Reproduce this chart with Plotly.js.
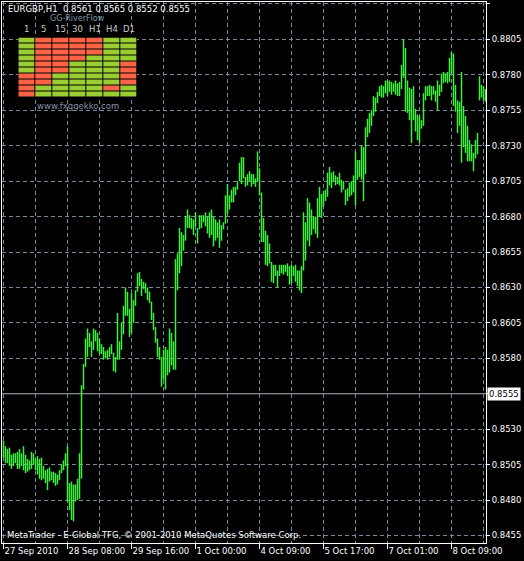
<!DOCTYPE html>
<html>
<head>
<meta charset="utf-8">
<script src="https://cdn.plot.ly/plotly-3.0.1.min.js"></script>
<style>html,body{margin:0;padding:0;background:#000;}#chart{width:524px;height:561px;}</style>
</head>
<body>
<div id="chart"></div>
<script>
// ---- data ----
const symbol = 'EURGBP';
const timeframe = 'H1';
const quote = [0.8561, 0.8565, 0.8552, 0.8555]; // open, high, low, close of the live bar

// hourly bar highs / lows (one per H1 bar, left to right)
const highs = [
  0.8522,0.8518,0.8516,0.8517,0.8512,0.8513,0.8513,0.8514,0.8516,0.8513,
  0.8518,0.8512,0.8509,0.8508,0.8514,0.8513,0.8509,0.8511,0.8509,0.8510,
  0.8504,0.8501,0.8502,0.8503,0.8500,0.8500,0.8499,0.8498,0.8501,0.8505,
  0.8508,0.8513,0.8518,0.8492,0.8493,0.8491,0.8491,0.8495,0.8513,0.8561,
  0.8576,0.8594,0.8601,0.8598,0.8592,0.8601,0.8600,0.8598,0.8594,0.8590,
  0.8588,0.8585,0.8586,0.8588,0.8590,0.8584,0.8581,0.8612,0.8592,0.8605,
  0.8617,0.8630,0.8627,0.8615,0.8626,0.8621,0.8628,0.8640,0.8641,0.8636,
  0.8634,0.8633,0.8630,0.8627,0.8620,0.8612,0.8602,0.8594,0.8588,0.8581,
  0.8586,0.8588,0.8586,0.8601,0.8598,0.8592,0.8650,0.8654,0.8672,0.8669,
  0.8667,0.8680,0.8685,0.8681,0.8679,0.8678,0.8683,0.8672,0.8681,0.8681,
  0.8681,0.8683,0.8680,0.8683,0.8685,0.8680,0.8678,0.8676,0.8678,0.8674,
  0.8676,0.8695,0.8703,0.8695,0.8699,0.8701,0.8701,0.8705,0.8718,0.8722,
  0.8722,0.8708,0.8710,0.8712,0.8710,0.8710,0.8707,0.8726,0.8714,0.8697,
  0.8679,0.8670,0.8667,0.8661,0.8648,0.8646,0.8646,0.8642,0.8646,0.8646,
  0.8646,0.8646,0.8647,0.8645,0.8646,0.8645,0.8646,0.8642,0.8642,0.8645,
  0.8683,0.8676,0.8693,0.8690,0.8685,0.8680,0.8680,0.8693,0.8701,0.8696,
  0.8698,0.8699,0.8711,0.8715,0.8711,0.8712,0.8709,0.8708,0.8711,0.8706,
  0.8705,0.8699,0.8700,0.8704,0.8705,0.8709,0.8726,0.8720,0.8720,0.8730,
  0.8729,0.8743,0.8749,0.8753,0.8755,0.8765,0.8764,0.8768,0.8772,0.8773,
  0.8772,0.8776,0.8776,0.8776,0.8775,0.8774,0.8776,0.8774,0.8775,0.8787,
  0.8805,0.8799,0.8776,0.8771,0.8770,0.8772,0.8756,0.8752,0.8751,0.8748,
  0.8767,0.8772,0.8772,0.8773,0.8772,0.8772,0.8769,0.8776,0.8773,0.8781,
  0.8782,0.8781,0.8782,0.8792,0.8796,0.8795,0.8773,0.8762,0.8761,0.8782,
  0.8758,0.8751,0.8744,0.8734,0.8731,0.8725,0.8734,0.8739,0.8779,0.8773,
  0.8772,0.8770
];
const lows = [
  0.8510,0.8506,0.8506,0.8504,0.8502,0.8504,0.8506,0.8502,0.8502,0.8504,
  0.8501,0.8499,0.8500,0.8501,0.8502,0.8505,0.8501,0.8498,0.8495,0.8494,
  0.8495,0.8492,0.8487,0.8493,0.8494,0.8492,0.8490,0.8491,0.8494,0.8499,
  0.8501,0.8504,0.8479,0.8473,0.8466,0.8465,0.8479,0.8480,0.8481,0.8495,
  0.8558,0.8574,0.8581,0.8588,0.8581,0.8586,0.8592,0.8585,0.8583,0.8583,
  0.8579,0.8580,0.8579,0.8581,0.8583,0.8571,0.8570,0.8579,0.8579,0.8586,
  0.8597,0.8610,0.8610,0.8595,0.8598,0.8605,0.8617,0.8627,0.8631,0.8624,
  0.8629,0.8626,0.8621,0.8619,0.8607,0.8600,0.8591,0.8581,0.8579,0.8560,
  0.8565,0.8558,0.8568,0.8570,0.8575,0.8572,0.8572,0.8628,0.8640,0.8645,
  0.8656,0.8663,0.8672,0.8672,0.8671,0.8667,0.8673,0.8661,0.8671,0.8672,
  0.8676,0.8673,0.8668,0.8665,0.8667,0.8659,0.8663,0.8665,0.8658,0.8663,
  0.8671,0.8675,0.8682,0.8685,0.8690,0.8690,0.8695,0.8699,0.8705,0.8703,
  0.8707,0.8701,0.8702,0.8705,0.8701,0.8703,0.8701,0.8705,0.8695,0.8662,
  0.8662,0.8646,0.8645,0.8647,0.8634,0.8633,0.8638,0.8630,0.8638,0.8640,
  0.8639,0.8641,0.8638,0.8632,0.8633,0.8638,0.8634,0.8631,0.8628,0.8626,
  0.8642,0.8649,0.8663,0.8659,0.8667,0.8671,0.8668,0.8665,0.8680,0.8679,
  0.8687,0.8691,0.8694,0.8702,0.8700,0.8705,0.8702,0.8703,0.8702,0.8697,
  0.8699,0.8688,0.8691,0.8694,0.8695,0.8697,0.8688,0.8706,0.8708,0.8706,
  0.8691,0.8710,0.8736,0.8739,0.8744,0.8751,0.8754,0.8760,0.8765,0.8764,
  0.8764,0.8767,0.8765,0.8768,0.8766,0.8768,0.8766,0.8765,0.8765,0.8770,
  0.8778,0.8754,0.8753,0.8748,0.8732,0.8748,0.8740,0.8734,0.8732,0.8742,
  0.8744,0.8762,0.8765,0.8765,0.8762,0.8766,0.8761,0.8755,0.8765,0.8768,
  0.8774,0.8775,0.8774,0.8775,0.8781,0.8758,0.8754,0.8739,0.8744,0.8718,
  0.8729,0.8725,0.8719,0.8719,0.8719,0.8712,0.8721,0.8724,0.8762,0.8764,
  0.8762,0.8761
];

// time-axis labels (one every 32 bars)
const dateLabels = ['27 Sep 2010','28 Sep 08:00','29 Sep 16:00','1 Oct 00:00',
                    '4 Oct 09:00','5 Oct 17:00','7 Oct 01:00','8 Oct 09:00'];
// price-axis labels
const priceLabels = [0.8455,0.8480,0.8505,0.8530,0.8555,0.8580,0.8605,0.8630,
                     0.8655,0.8680,0.8705,0.8730,0.8755,0.8780,0.8805,0.8830];

// GG-RiverFlow indicator (1 = green / up, 0 = red / down), rows top to bottom
const riverTimeframes = ['1','5','15','30','H1','H4','D1'];
const riverState = [
  [1,0,0,0,0,1,1],
  [1,0,0,0,0,1,1],
  [1,0,0,0,0,1,1],
  [1,0,0,0,1,1,1],
  [1,0,0,1,1,1,0],
  [1,0,0,1,1,1,0],
  [0,0,1,1,1,1,0],
  [0,0,1,1,1,1,0],
  [0,1,1,1,1,0,1],
  [0,1,1,1,1,1,1]
];

// ---- build ----
const BAR_STEP = 32, GRID_STEP = 16;
const bx = [], by = [];
highs.forEach((h, i) => { bx.push(i, i, null); by.push(lows[i], h, null); });

const FONT = 'DejaVu Sans';
const gridColor = '#778899';
const dash = '4px,3px';

const barTrace = {
  type: 'scatter', mode: 'lines', x: bx, y: by,
  line: {color: '#3cf03c', width: 1.5}, hoverinfo: 'skip', connectgaps: false
};
const river = {
  type: 'heatmap', z: riverState,
  x: riverTimeframes.map((_, k) => k), y: riverState.map((_, r) => r),
  xaxis: 'x2', yaxis: 'y2', zmin: 0, zmax: 1, showscale: false,
  colorscale: [[0, '#ff6347'], [1, '#9acd32']], xgap: 1, ygap: 1, hoverinfo: 'skip'
};

const nBars = highs.length;
const majorVals = dateLabels.map((_, k) => k * BAR_STEP);
const minorVals = [];
for (let v = GRID_STEP; v < nBars; v += BAR_STEP) minorVals.push(v);

const annotations = [
  {xref: 'paper', yref: 'paper', x: 0, y: 1, xanchor: 'left', yanchor: 'top', xshift: 4, yshift: 0,
   text: symbol + ',' + timeframe + '  ' + quote.map(v => v.toFixed(4)).join(' '),
   showarrow: false, font: {family: FONT, size: 8.5, color: '#ffffff'}},
  {xref: 'paper', yref: 'paper', x: 0.155, y: 0.970, xanchor: 'center', yanchor: 'middle',
   text: 'GG-RiverFlow', showarrow: false, font: {family: FONT, size: 8, color: '#8494a6'}},
  {xref: 'paper', yref: 'paper', x: 0.158, y: 0.808, xanchor: 'center', yanchor: 'middle',
   text: 'www.fxggekko.com', showarrow: false, font: {family: FONT, size: 8.5, color: '#8494a6'}},
  {xref: 'paper', yref: 'paper', x: 0, y: 0, xanchor: 'left', yanchor: 'bottom', xshift: 3, yshift: 1,
   text: 'MetaTrader - E-Global TFG, © 2001-2010 MetaQuotes Software Corp.',
   showarrow: false, font: {family: FONT, size: 8.5, color: '#ffffff'}},
  {xref: 'paper', yref: 'y', x: 1, y: quote[3], xanchor: 'left', yanchor: 'middle', xshift: 1,
   text: quote[3].toFixed(4), showarrow: false, bgcolor: '#ffffff', borderpad: 1,
   font: {family: FONT, size: 8.5, color: '#000000'}}
];
riverTimeframes.forEach((t, k) => annotations.push({
  xref: 'x2', yref: 'paper', x: k, y: 0.950, xanchor: 'center', yanchor: 'middle',
  text: t, showarrow: false, font: {family: FONT, size: 8.5, color: '#c8c8c8'}
}));

const layout = {
  width: 524, height: 561,
  paper_bgcolor: '#000000', plot_bgcolor: '#000000',
  margin: {l: 2, r: 38, t: 2, b: 18, pad: 0},
  showlegend: false,
  xaxis: {
    range: [-0.75, nBars - 0.75], zeroline: false,
    showline: true, linecolor: '#ffffff', linewidth: 1, mirror: true,
    tickmode: 'array', tickvals: majorVals, ticktext: dateLabels, tickangle: 0,
    ticks: 'outside', ticklen: 5, tickcolor: '#ffffff', tickwidth: 1,
    ticklabelposition: 'outside right',
    tickfont: {family: FONT, size: 8.5, color: '#ffffff'},
    showgrid: true, gridcolor: gridColor, gridwidth: 1, griddash: dash,
    minor: {tickmode: 'array', tickvals: minorVals, showgrid: true, gridcolor: gridColor,
            gridwidth: 1, griddash: dash, ticks: ''},
    automargin: false, fixedrange: true
  },
  yaxis: {
    side: 'right', range: [0.84497, 0.88314], zeroline: false,
    showline: true, linecolor: '#ffffff', linewidth: 1, mirror: true,
    tickmode: 'array', tickvals: priceLabels,
    ticktext: priceLabels.map(v => v === quote[3] ? '' : v.toFixed(4)),
    ticks: 'outside', ticklen: 3, tickcolor: '#ffffff',
    tickfont: {family: FONT, size: 8.5, color: '#ffffff'},
    showgrid: true, gridcolor: gridColor, gridwidth: 1, griddash: dash,
    automargin: false, fixedrange: true
  },
  xaxis2: {domain: [0.0337, 0.2789], range: [-0.5, riverTimeframes.length - 0.5], anchor: 'y2',
           visible: false, fixedrange: true},
  yaxis2: {domain: [0.8244, 0.9344], range: [riverState.length - 0.5, -0.5], anchor: 'x2',
           visible: false, fixedrange: true},
  shapes: [{type: 'line', xref: 'paper', x0: 0, x1: 1, yref: 'y', y0: quote[3], y1: quote[3],
            line: {color: '#b4b4b4', width: 1}, layer: 'below'}],
  annotations: annotations
};

Plotly.newPlot('chart', [barTrace, river], layout, {staticPlot: true, displayModeBar: false});
</script>
</body>
</html>
